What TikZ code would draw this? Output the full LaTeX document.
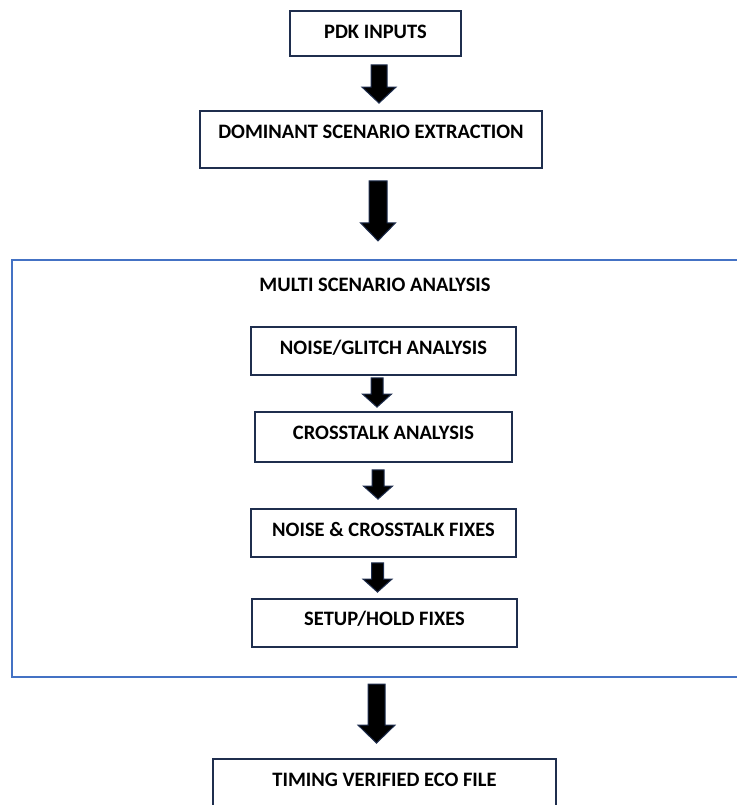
\documentclass[tikz,border=0pt]{standalone}
\usepackage{fontspec}
\setmainfont{Carlito}
\usetikzlibrary{calc}

\definecolor{boxline}{HTML}{1F2E4E}
\definecolor{frameblue}{HTML}{4472C4}

% Solid block arrow hanging below one node and pointing at the next.
% #1 from node, #2 to node, #3 centre x, #4 gap below #1, #5 gap above #2,
% #6 shaft width, #7 head width, #8 head length
\newcommand\blockarrow[8]{%
  \filldraw[blockarr] let \p1=(#1.south), \p2=(#2.north), \p3=(#3,0) in
    (\x3-#6*0.5bp, \y1-#4bp) -- (\x3+#6*0.5bp, \y1-#4bp)
    -- (\x3+#6*0.5bp, \y2+#5bp+#8bp) -- (\x3+#7*0.5bp, \y2+#5bp+#8bp)
    -- (\x3, \y2+#5bp) -- (\x3-#7*0.5bp, \y2+#5bp+#8bp)
    -- (\x3-#6*0.5bp, \y2+#5bp+#8bp) -- cycle;}

\begin{document}
\begin{tikzpicture}[x=1bp,y=-1bp,
  every node/.style={font=\fontsize{20.5bp}{24bp}\selectfont\bfseries},
  stepbox/.style={draw=boxline, line width=1.8bp, fill=white, inner sep=0pt,
    text height=13bp},
  blockarr/.style={fill=black, draw=boxline, line width=1bp, line join=miter},
  frame/.style={draw=frameblue, line width=2.2bp, inner sep=0pt}]
\useasboundingbox (0,0) rectangle (737,805);
\clip (0,0) rectangle (737,805);

% outer stage
\node[frame, minimum width=748bp, minimum height=417bp] (multi) at (386,468.5) {};
\node (title) at (375,285) {MULTI SCENARIO ANALYSIS};

% flow boxes
\node[stepbox, minimum width=171bp, minimum height=45bp, text depth=3bp]
  (pdk) at (375.5,33.5) {PDK INPUTS};
\node[stepbox, minimum width=342bp, minimum height=57bp, text depth=15bp]
  (dom) at (371,139.5) {DOMINANT SCENARIO EXTRACTION};
\node[stepbox, minimum width=265bp, minimum height=48bp, text depth=6bp]
  (noise) at (383.5,351) {NOISE/GLITCH ANALYSIS};
\node[stepbox, minimum width=257bp, minimum height=50bp, text depth=8bp]
  (xtalk) at (383.5,437) {CROSSTALK ANALYSIS};
\node[stepbox, minimum width=265bp, minimum height=48bp, text depth=6bp]
  (fixes) at (383.5,533) {NOISE \& CROSSTALK FIXES};
\node[stepbox, minimum width=265bp, minimum height=48bp, text depth=8bp]
  (setup) at (384.5,623) {SETUP/HOLD FIXES};
\node[stepbox, minimum width=343bp, minimum height=57bp, text depth=15bp]
  (eco) at (384.5,787.5) {TIMING VERIFIED ECO FILE};

% arrows
\blockarrow{pdk}{dom}{379}{8}{7}{16}{34}{16}
\blockarrow{dom}{multi}{378}{12}{18}{18}{35}{18}
\blockarrow{noise}{xtalk}{377}{2}{4}{12}{29}{13}
\blockarrow{xtalk}{fixes}{378}{7}{9}{12}{29}{13}
\blockarrow{fixes}{setup}{377.5}{5}{6}{12}{29}{13}
\blockarrow{multi}{eco}{376.5}{6}{15}{17}{37}{18}
\end{tikzpicture}
\end{document}
